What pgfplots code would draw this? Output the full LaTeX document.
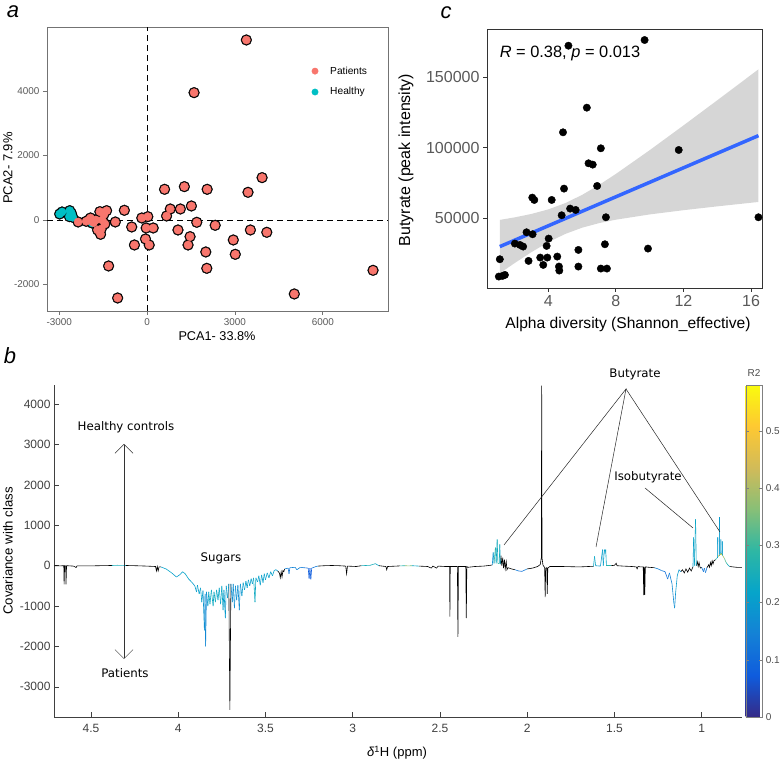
\documentclass[border=0pt]{standalone}
\usepackage{pgfplots}
\pgfplotsset{compat=1.18}
\usepackage{fontspec}
\setmainfont{Liberation Sans}
\newfontfamily\verd{DejaVu Sans}
\usetikzlibrary{arrows.meta}
\definecolor{salmon}{HTML}{F8766D}
\definecolor{tealc}{HTML}{00BFC4}
\definecolor{smoothblue}{HTML}{3366FF}
\pgfplotsset{
  colormap={parula}{rgb255=(53,42,135) rgb255=(15,92,221) rgb255=(20,129,214) rgb255=(6,164,202) rgb255=(46,183,164) rgb255=(135,191,119) rgb255=(209,187,89) rgb255=(254,200,50) rgb255=(249,251,14)},
}
\begin{document}
\begin{tikzpicture}[x=1pt,y=1pt]
\useasboundingbox (0,0) rectangle (780,759);
% ---------------- panel a ----------------
\begin{axis}[at={(47pt,448pt)}, anchor=south west, scale only axis, width=341pt, height=284pt,
  xmin=-3422, xmax=8229, ymin=-2822, ymax=5984,
  xtick={-3000,0,3000,6000}, ytick={-2000,0,2000,4000},
  xticklabels={-3000,0,3000,6000}, yticklabels={-2000,0,2000,4000},
  scaled ticks=false,
  tick align=outside, xtick pos=left, ytick pos=left, major tick length=4pt,
  axis line style={draw=black!55, line width=0.9pt}, tick style={draw=black!55, line width=0.9pt},
  ticklabel style={font=\fontsize{9.9}{11}\selectfont, text=black!65},
  legend style={at={(0.776,0.868)}, anchor=north west, draw=none, fill=none, font=\fontsize{10.2}{12}\selectfont, row sep=8pt, column sep=10pt, inner sep=0pt},
  legend cell align=left]
\addplot[black, line width=0.9pt, dash pattern=on 6pt off 4pt, forget plot] coordinates {(0,-2822) (0,5984)};
\addplot[black, line width=0.9pt, dash pattern=on 6pt off 4pt, forget plot] coordinates {(-3422,0) (8229,0)};
% outline layer
\addplot[only marks, mark=*, mark size=5.4pt, black, forget plot] coordinates {
(3389,5581) (1603,3948) (3927,1313) (3446,858) (595,951) (1271,1034) (2050,951) (790,341) (1134,341) (1511,434)
(664,124) (1695,-72) (2324,-165) (1053,-310) (1466,-517) (1397,-775) (2004,-992) (2038,-1499) (2943,-620) (3011,-1065)
(3527,-310) (4088,-382) (5027,-2294) (7718,-1561) (23,103) (-183,62) (-34,-248) (206,-248) (-57,-589) (69,-775)
(-435,-775) (-527,-217) (-779,300) (-1088,-62) (-1317,-1426) (-1008,-2419) (-1385,289) (-1477,176) (-1615,258) (-1443,-124)
(-1569,-279) (-1592,-444) (-1695,-310) (-1752,0) (-1866,-41) (-1992,0) (-2084,-41) (-1935,62) (-2359,-62) (-1534,0) (-1832,-83)
(-2989,186) (-2908,248) (-2645,289) (-2588,207) (-2542,83) (-2656,103) (-1880,-95)};
% healthy fill
\addplot[only marks, mark=*, mark size=4.1pt, tealc, forget plot] coordinates {
(-2989,186) (-2908,248) (-2645,289) (-2588,207) (-2542,83) (-2656,103) (-1880,-95)};
% patients fill
\addplot[only marks, mark=*, mark size=4.1pt, salmon, forget plot] coordinates {
(3389,5581) (1603,3948) (3927,1313) (3446,858) (595,951) (1271,1034) (2050,951) (790,341) (1134,341) (1511,434)
(664,124) (1695,-72) (2324,-165) (1053,-310) (1466,-517) (1397,-775) (2004,-992) (2038,-1499) (2943,-620) (3011,-1065)
(3527,-310) (4088,-382) (5027,-2294) (7718,-1561) (23,103) (-183,62) (-34,-248) (206,-248) (-57,-589) (69,-775)
(-435,-775) (-527,-217) (-779,300) (-1088,-62) (-1317,-1426) (-1008,-2419) (-1385,289) (-1477,176) (-1615,258) (-1443,-124)
(-1569,-279) (-1592,-444) (-1695,-310) (-1752,0) (-1866,-41) (-1992,0) (-2084,-41) (-1935,62) (-2359,-62) (-1534,0) (-1832,-83)};
\addlegendimage{only marks, mark=*, mark size=3.2pt, salmon}
\addlegendentry{Patients}
\addlegendimage{only marks, mark=*, mark size=3.2pt, tealc}
\addlegendentry{Healthy}
\end{axis}
% ---------------- panel c ----------------
\begin{axis}[at={(487pt,471pt)}, anchor=south west, scale only axis, width=275pt, height=259pt,
  xmin=0.37, xmax=16.65, ymin=637, ymax=184000,
  xtick={4,8,12,16}, ytick={50000,100000,150000},
  xticklabels={4,8,12,16}, yticklabels={50000,100000,150000},
  scaled ticks=false, scaled y ticks=false,
  tick align=outside, xtick pos=left, ytick pos=left, major tick length=4pt,
  axis line style={draw=black!80, line width=0.9pt}, tick style={draw=black!80, line width=0.9pt},
  ticklabel style={font=\fontsize{16}{18}\selectfont, text=black!65}]
\addplot[only marks, mark=*, mark size=3.7pt, black] coordinates {
(5.19,172170) (9.70,176180) (6.28,128300) (4.87,110850) (7.11,99530) (11.72,98350) (6.38,88920) (6.63,87970)
(6.89,72880) (4.93,70990) (3.05,64620) (3.17,62970) (4.20,62970) (5.29,56840) (5.62,55900) (4.79,52120)
(7.41,50710) (16.44,50710) (2.71,40090) (3.07,38680) (4.02,35610) (3.90,30420) (2.32,31130) (2.02,32070)
(2.51,29950) (5.78,27590) (9.90,28530) (7.35,31600) (1.13,20990) (3.52,22170) (3.94,22170) (4.53,22880)
(2.83,19810) (3.70,16980) (4.63,15800) (4.65,12970) (5.78,15800) (7.11,14380) (7.47,14380) (1.07,8730)
(1.43,9900) (1.29,9190)};
\addplot[draw=none, fill=black!40, fill opacity=0.4] coordinates {
(1.13,48860) (2,50610) (3,53060) (4,56280) (5,60710) (6,66540) (7,73580) (8,81390) (10,98190) (12,115710) (14,133520) (16.44,155440)
(16.44,61540) (14,58420) (12,55710) (10,52710) (8,48990) (7,46540) (6,43320) (5,38890) (4,33060) (3,26020) (2,18210) (1.13,11040)};
\addplot[smoothblue, line width=3.5pt] coordinates {(1.13,29950) (16.44,108490)};
\end{axis}
% ---------------- panel b ----------------
\begin{axis}[at={(54pt,42pt)}, anchor=south west, scale only axis, width=688pt, height=332pt,
  x dir=reverse, xmin=0.769, xmax=4.712, ymin=-3746, ymax=4474,
  axis x line*=bottom, axis y line*=left,
  axis line style={-, draw=black!75, line width=0.6pt},
  xtick={1,1.5,2,2.5,3,3.5,4,4.5}, ytick={-3000,-2000,-1000,0,1000,2000,3000,4000},
  xticklabels={1,1.5,2,2.5,3,3.5,4,4.5}, yticklabels={-3000,-2000,-1000,0,1000,2000,3000,4000},
  scaled ticks=false,
  tick align=inside, major tick length=5pt, tick style={draw=black!75, line width=0.6pt},
  ticklabel style={font=\fontsize{12}{14}\selectfont, text=black!75},
  xticklabel style={yshift=-4pt},
  colormap name=parula, point meta min=0, point meta max=0.58,
  colorbar, colorbar shift/.style={},
  colorbar style={scale only axis, width=16.6pt, height=332pt, at={(parent axis.north east)}, anchor=north west, xshift=3.7pt,
    ytick={0,0.1,0.2,0.3,0.4,0.5}, yticklabels={0,0.1,0.2,0.3,0.4,0.5}, major tick length=3pt, tick align=inside,
    axis line style={draw=black!50}, tick style={draw=black!50},
    yticklabel style={font=\fontsize{10}{12}\selectfont, text=black!70}}]
% black segments
\addplot[black, line width=0.6pt] table {
4.71 0
4.68 -5
4.656 0
4.654 -460
4.651 0
4.645 -5
4.643 -460
4.640 0
4.60 -10
4.585 -45
4.58 -5
4.50 -5
4.45 0
4.38 5
};
\addplot[black, line width=0.6pt] table {
4.30 5
4.25 0
4.18 -10
4.13 -20
4.125 -130
4.12 -20
4.115 -130
4.11 -30
4.10 -30
};
\addplot[black, line width=0.6pt] table {
3.71 -450
3.704 -3570
3.698 -450
};
\addplot[black, line width=0.6pt] table {
3.43 -130
3.42 -180
3.415 -300
3.41 -150
3.405 -280
3.40 -120
3.395 -150
3.39 -80
};
\addplot[black, line width=0.6pt] table {
3.20 -10
3.16 0
3.12 5
3.08 0
3.04 -10
3.035 -200
3.03 -10
2.98 -20
2.95 0
};
\addplot[black, line width=0.6pt] table {
2.85 0
2.81 -20
2.805 -100
2.80 -20
2.75 -10
2.73 -5
};
\addplot[black, line width=0.6pt] table {
2.62 -10
2.57 -20
2.55 -60
2.54 -10
2.52 -60
2.51 -10
2.47 -20
2.445 -20
2.443 -1260
2.441 -20
2.40 -20
2.397 -1760
2.394 -20
2.352 -20
2.349 -1300
2.346 -20
2.34 -40
2.30 -20
2.25 -10
2.21 10
2.20 20
};
\addplot[black, line width=0.6pt] table {
2.154 40
2.15 250
2.146 0
2.14 200
2.136 -60
2.13 150
2.126 -80
2.12 100
2.116 -100
2.11 -50
2.09 -80
2.07 -100
};
\addplot[black, line width=0.6pt] table {
2.0 -80
1.97 -60
1.94 -20
1.925 30
1.919 200
1.917 4460
1.915 200
1.91 20
1.90 -50
1.897 -780
1.894 -60
1.888 -50
1.885 -700
1.882 -60
1.87 -20
1.80 -20
1.70 -30
1.65 -20
1.62 -15
};
\addplot[black, line width=0.6pt] table {
1.52 0
1.50 10
1.49 60
1.485 0
1.45 -10
1.40 -20
1.375 -30
1.37 -80
1.365 -20
1.35 -30
1.335 -30
1.332 -730
1.329 -30
1.326 -720
1.323 -30
1.30 -40
1.27 -50
};
\addplot[black, line width=0.6pt] table {
1.12 -150
1.11 -100
1.10 -180
1.09 -80
1.08 -160
1.07 -60
1.06 -130
1.05 -30
};
\addplot[black, line width=0.6pt] table {
1.031 0
1.025 100
1.02 -20
1.015 80
1.01 -30
1.005 -60
1.0 -40
};
\addplot[black, line width=0.6pt] table {
0.97 -50
0.96 20
0.955 -40
0.95 80
0.945 0
0.94 120
0.935 40
0.93 120
0.92 150
};
\addplot[black, line width=0.6pt] table {
0.84 -20
0.82 -30
0.80 -40
0.77 -40
};
% coloured segments (R2)
\addplot[mesh, line width=0.6pt, point meta=explicit] table[x index=0, y index=1, meta index=2] {
4.38 5 0.25
4.35 10 0.25
4.32 8 0.25
4.30 5 0.2
};
\addplot[mesh, line width=0.6pt, point meta=explicit] table[x index=0, y index=1, meta index=2] {
4.10 -30 0.2
4.07 -80 0.22
4.04 -170 0.22
4.01 -280 0.2
3.99 -220 0.2
3.975 -150 0.22
3.96 -200 0.22
3.94 -330 0.22
3.92 -420 0.2
3.905 -500 0.2
3.895 -650 0.2
3.89 -480 0.22
3.88 -700 0.2
3.872 -550 0.22
3.865 -900 0.2
3.858 -620 0.22
3.85 -1600 0.15
3.846 -700 0.2
3.843 -2000 0.12
3.838 -650 0.2
3.83 -1000 0.18
3.825 -650 0.25
3.818 -950 0.22
3.81 -600 0.25
3.80 -1000 0.22
3.795 -650 0.25
3.787 -900 0.22
3.78 -600 0.25
3.772 -850 0.2
3.765 -550 0.25
3.757 -950 0.2
3.75 -500 0.25
3.743 -1100 0.2
3.738 -600 0.22
3.73 -1300 0.18
3.725 -500 0.22
3.717 -800 0.2
3.71 -450 0.2
};
\addplot[mesh, line width=0.6pt, point meta=explicit] table[x index=0, y index=1, meta index=2] {
3.698 -450 0.2
3.69 -900 0.15
3.685 -450 0.2
3.678 -1050 0.15
3.672 -500 0.2
3.665 -850 0.15
3.658 -480 0.2
3.65 -1100 0.15
3.644 -450 0.2
3.635 -750 0.18
3.628 -420 0.22
3.62 -600 0.2
3.612 -380 0.22
3.605 -550 0.2
3.598 -350 0.22
3.59 -500 0.2
3.582 -320 0.22
3.575 -450 0.2
3.568 -300 0.22
3.56 -900 0.25
3.555 -300 0.22
3.545 -400 0.2
3.538 -250 0.22
3.53 -480 0.2
3.522 -230 0.22
3.514 -420 0.2
3.507 -200 0.22
3.50 -350 0.2
3.49 -180 0.22
3.48 -300 0.2
3.47 -150 0.22
3.46 -250 0.2
3.45 -120 0.22
3.44 -100 0.2
3.43 -130 0.2
};
\addplot[mesh, line width=0.6pt, point meta=explicit] table[x index=0, y index=1, meta index=2] {
3.39 -80 0.15
3.37 -60 0.15
3.365 -200 0.1
3.36 -50 0.15
3.33 -40 0.15
3.32 -100 0.15
3.30 -40 0.15
3.28 -50 0.12
3.255 -60 0.1
3.25 -320 0.05
3.245 -60 0.1
3.24 -340 0.05
3.235 -60 0.1
3.21 -20 0.15
3.20 -10 0.15
};
\addplot[mesh, line width=0.6pt, point meta=explicit] table[x index=0, y index=1, meta index=2] {
2.95 0 0.25
2.90 10 0.25
2.87 50 0.25
2.85 0 0.2
};
\addplot[mesh, line width=0.6pt, point meta=explicit] table[x index=0, y index=1, meta index=2] {
2.73 -5 0.25
2.70 0 0.3
2.68 -5 0.45
2.66 0 0.25
2.62 -10 0.2
};
\addplot[mesh, line width=0.6pt, point meta=explicit] table[x index=0, y index=1, meta index=2] {
2.20 20 0.2
2.195 330 0.15
2.19 60 0.25
2.182 450 0.3
2.178 60 0.25
2.172 650 0.2
2.168 60 0.3
2.16 50 0.3
2.157 530 0.2
2.154 40 0.25
};
\addplot[mesh, line width=0.6pt, point meta=explicit] table[x index=0, y index=1, meta index=2] {
2.07 -100 0.15
2.05 -130 0.12
2.03 -140 0.1
2.01 -100 0.15
2.0 -80 0.15
};
\addplot[mesh, line width=0.6pt, point meta=explicit] table[x index=0, y index=1, meta index=2] {
1.62 -15 0.2
1.614 230 0.25
1.608 0 0.2
1.58 -10 0.2
1.568 400 0.2
1.564 0 0.22
1.558 400 0.2
1.554 300 0.22
1.55 400 0.2
1.546 0 0.25
1.52 0 0.3
};
\addplot[mesh, line width=0.6pt, point meta=explicit] table[x index=0, y index=1, meta index=2] {
1.27 -50 0.15
1.25 -80 0.15
1.23 -120 0.12
1.21 -150 0.12
1.195 -330 0.1
1.185 -180 0.15
1.17 -450 0.15
1.16 -900 0.18
1.155 -1050 0.15
1.15 -700 0.2
1.14 -250 0.2
1.13 -100 0.2
1.12 -150 0.15
};
\addplot[mesh, line width=0.6pt, point meta=explicit] table[x index=0, y index=1, meta index=2] {
1.05 -30 0.2
1.046 700 0.2
1.042 0 0.25
1.035 1150 0.2
1.031 0 0.25
};
\addplot[mesh, line width=0.6pt, point meta=explicit] table[x index=0, y index=1, meta index=2] {
1.0 -40 0.15
0.99 -150 0.1
0.985 -60 0.15
0.978 -170 0.1
0.97 -50 0.15
};
\addplot[mesh, line width=0.6pt, point meta=explicit] table[x index=0, y index=1, meta index=2] {
0.92 150 0.3
0.915 180 0.3
0.91 200 0.25
0.909 200 0.2
0.908 700 0.2
0.907 220 0.2
0.905 230 0.45
0.9 260 0.5
0.899 260 0.2
0.898 1200 0.2
0.897 280 0.2
0.895 280 0.55
0.891 300 0.55
0.8905 300 0.2
0.89 650 0.2
0.8895 300 0.2
0.887 290 0.55
0.883 270 0.5
0.8825 270 0.2
0.882 600 0.2
0.8815 260 0.2
0.878 240 0.45
0.87 180 0.35
0.86 80 0.3
0.85 20 0.25
0.84 -20 0.2
};
\end{axis}
% ---------------- titles and annotations ----------------
\node[font=\fontsize{22}{24}\selectfont\itshape] at (13,747) {a};
\node[font=\fontsize{22}{24}\selectfont\itshape] at (446,746) {c};
\node[font=\fontsize{22}{24}\selectfont\itshape] at (10,403) {b};
\node[font=\fontsize{12.7}{14}\selectfont] at (217,423) {PCA1- 33.8\%};
\node[font=\fontsize{13}{14}\selectfont, rotate=90] at (8,591) {PCA2- 7.9\%};
\node[font=\fontsize{16}{18}\selectfont, rotate=90] at (406,599) {Butyrate (peak intensity)};
\node[font=\fontsize{15.6}{18}\selectfont] at (628,435) {Alpha diversity (Shannon\_effective)};
\node[font=\fontsize{16.4}{18}\selectfont] at (570,706) {\textit{R} = 0.38, \textit{p} = 0.013};
\node[font=\fontsize{13.2}{14}\selectfont, rotate=90] at (8,208) {Covariance with class};
\node[font=\fontsize{13}{14}\selectfont] at (397,6) {\textit{δ}\textsuperscript{1}H (ppm)};
\node[font=\fontsize{10}{12}\selectfont, text=black!70] at (754,386) {R2};
\node[font=\verd\fontsize{11.8}{13}\selectfont] at (126,332) {Healthy controls};
\node[font=\verd\fontsize{11.8}{13}\selectfont] at (125,86) {Patients};
\node[font=\verd\fontsize{11.8}{13}\selectfont] at (221,201) {Sugars};
\node[font=\verd\fontsize{11.8}{13}\selectfont] at (635,385) {Butyrate};
\node[font=\verd\fontsize{11.8}{13}\selectfont] at (648,282) {Isobutyrate};
\draw[black!80, line width=0.5pt, {Straight Barb[length=9pt,width=18pt]}-{Straight Barb[length=9pt,width=18pt]}] (124,315) -- (124,100);
\draw[black!85, line width=0.5pt] (504,214) -- (626,370) -- (596,212);
\draw[black!85, line width=0.5pt] (626,370) -- (720,227);
\draw[black!85, line width=0.5pt] (645,271) -- (693,231);
\end{tikzpicture}
\end{document}
